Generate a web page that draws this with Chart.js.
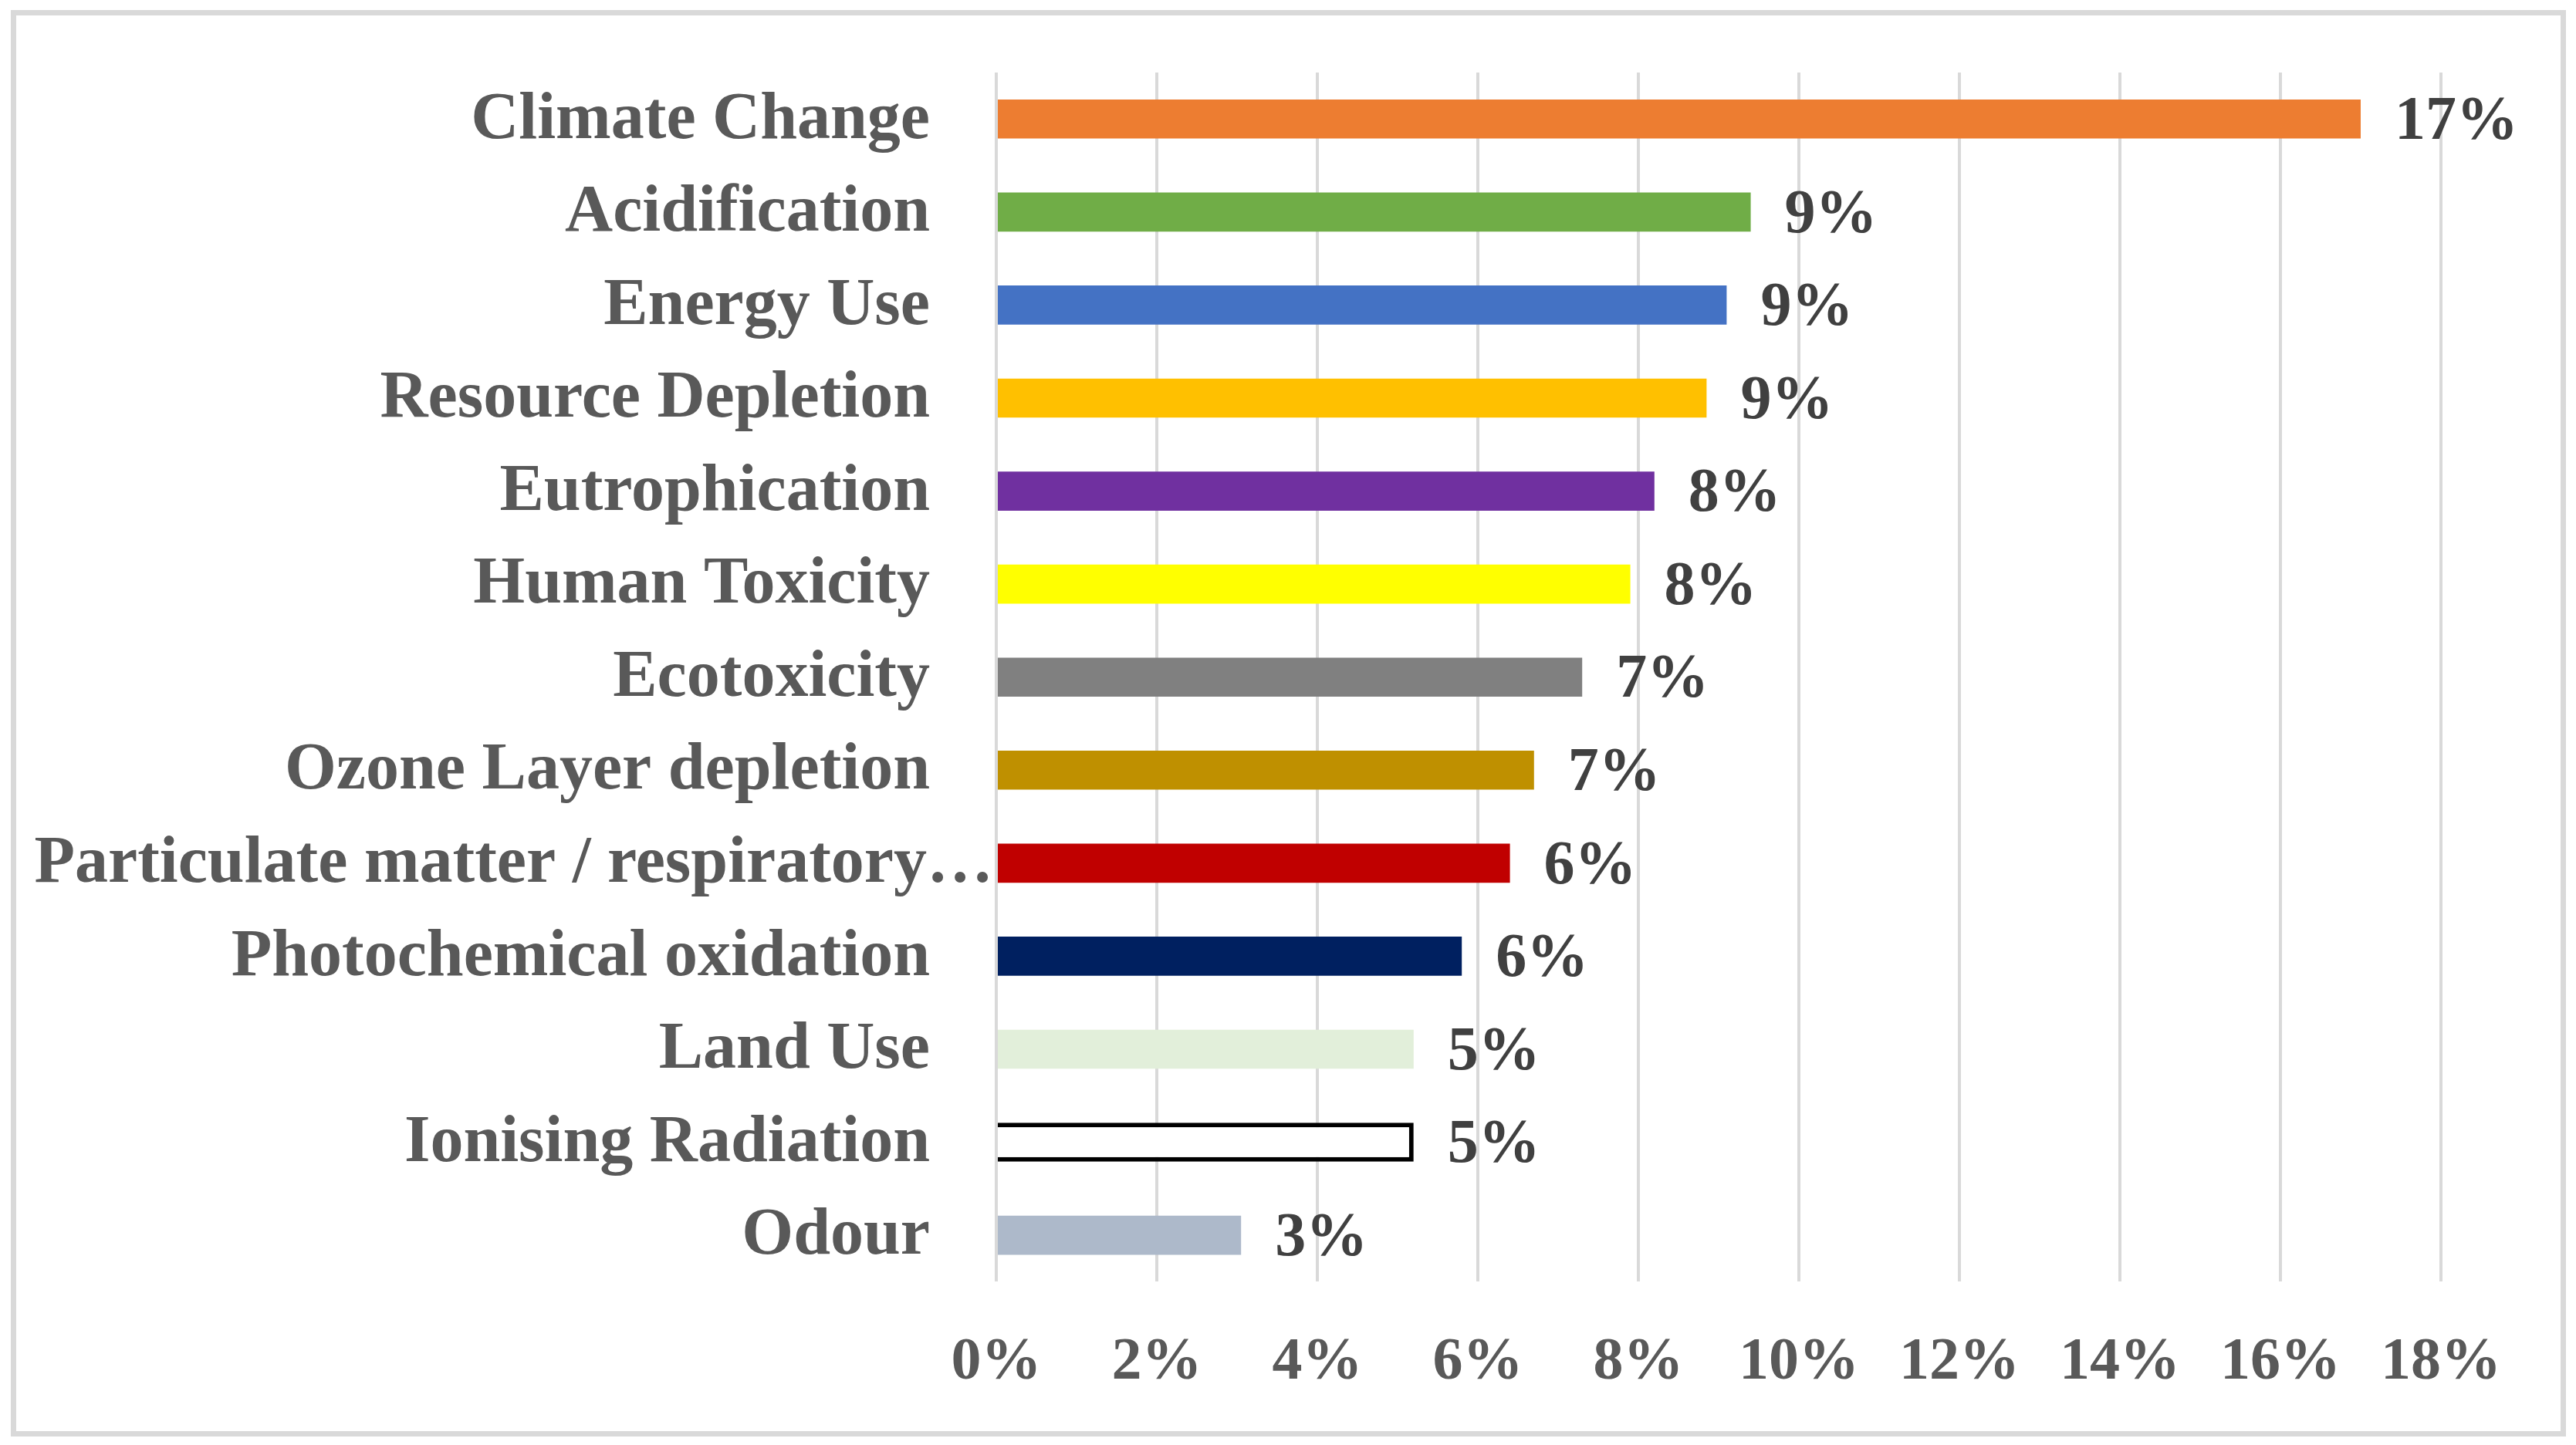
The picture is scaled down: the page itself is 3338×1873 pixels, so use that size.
<!DOCTYPE html>
<html>
<head>
<meta charset="utf-8">
<script src="https://cdn.jsdelivr.net/npm/chart.js@4.4.1/dist/chart.umd.min.js"></script>
<style>
    html, body { margin: 0; padding: 0; background: #fff; }
    #frame {
        position: absolute; left: 14px; top: 13px;
        width: 3311px; height: 1849px;
        box-sizing: border-box;
        border: 7px solid #d9d9d9;
    }
    #impactChart { position: absolute; left: 0; top: 0; }
</style>
</head>
<body>
<div id="frame"></div>
<canvas id="impactChart" width="3338" height="1873"></canvas>
<script>
const categories = [
    'Climate Change', 'Acidification', 'Energy Use', 'Resource Depletion',
    'Eutrophication', 'Human Toxicity', 'Ecotoxicity', 'Ozone Layer depletion',
    'Particulate matter / respiratory\u2026', 'Photochemical oxidation',
    'Land Use', 'Ionising Radiation', 'Odour'
];
const shares = [17.0, 9.4, 9.1, 8.85, 8.2, 7.9, 7.3, 6.7, 6.4, 5.8, 5.2, 5.2, 3.05];
const barColors = [
    '#ED7D31', '#70AD47', '#4472C4', '#FFC000', '#7030A0', '#FFFF00', '#808080',
    '#BF9000', '#C00000', '#002060', '#E2EFDA', '#FFFFFF', '#ADB9CA'
];
const barBorders = ['', '', '', '', '', '', '', '', '', '', '', '#000000', ''];
const xTicks = [0, 2, 4, 6, 8, 10, 12, 14, 16, 18];

const SERIF = '"Liberation Serif", "DejaVu Serif", serif';

// category names on the left, drawn from the y scale positions
const categoryLabels = {
    id: 'categoryLabels',
    afterDraw(chart) {
        const ctx = chart.ctx;
        const y = chart.scales.y;
        const left = chart.chartArea.left;
        ctx.save();
        ctx.font = 'bold 86px ' + SERIF;
        ctx.fillStyle = '#595959';
        ctx.textAlign = 'right';
        ctx.textBaseline = 'middle';
        categories.forEach((name, i) => {
            // Excel lets the truncated label run up to the axis
            const x = name.endsWith('\u2026') ? left - 4 : left - 86;
            ctx.fillText(name, x, y.getPixelForValue(i) + 2);
        });
        ctx.restore();
    }
};

// value labels at the end of each bar
const valueLabels = {
    id: 'valueLabels',
    afterDatasetsDraw(chart) {
        const ctx = chart.ctx;
        const meta = chart.getDatasetMeta(0);
        ctx.save();
        ctx.font = 'bold 80px ' + SERIF;
        ctx.fillStyle = '#404040';
        ctx.textAlign = 'left';
        ctx.textBaseline = 'middle';
        meta.data.forEach((bar, i) => {
            ctx.fillText(Math.round(shares[i]) + '%', bar.x + 44, bar.y + 5);
        });
        ctx.restore();
    }
};

new Chart(document.getElementById('impactChart'), {
    type: 'bar',
    data: {
        labels: categories,
        datasets: [{
            data: shares,
            backgroundColor: barColors,
            borderColor: barBorders.map(c => c || 'rgba(0,0,0,0)'),
            borderWidth: barBorders.map(c => c ? 6 : 0),
            borderSkipped: 'start',
            categoryPercentage: 1,
            barPercentage: 0.42
        }]
    },
    options: {
        indexAxis: 'y',
        responsive: false,
        devicePixelRatio: 1,
        animation: false,
        layout: { padding: { left: 1291, right: 175, top: 94, bottom: 0 } },
        plugins: { legend: { display: false }, tooltip: { enabled: false } },
        scales: {
            y: { display: false },
            x: {
                min: 0,
                max: 18,
                afterBuildTicks: axis => { axis.ticks = xTicks.map(v => ({ value: v })); },
                grid: { color: '#d9d9d9', lineWidth: 4, drawTicks: false },
                border: { display: false },
                ticks: {
                    padding: 59,
                    color: '#595959',
                    font: { family: SERIF, size: 78, weight: 'bold' },
                    callback: v => v + '%'
                }
            }
        }
    },
    plugins: [categoryLabels, valueLabels]
});
</script>
</body>
</html>
